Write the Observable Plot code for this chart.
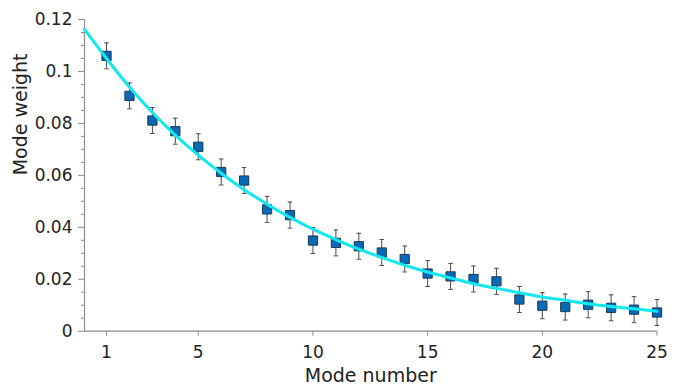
<!DOCTYPE html>
<html>
<head>
<meta charset="utf-8">
<script src="https://cdn.jsdelivr.net/npm/d3@7"></script>
<script src="https://cdn.jsdelivr.net/npm/@observablehq/plot@0.6"></script>
<style>
  html, body { margin: 0; padding: 0; background: white; }
</style>
</head>
<body>
<div id="chart"></div>
<script>
// Measured mode weights (mode numbers 1..25)
const modes = [1,2,3,4,5,6,7,8,9,10,11,12,13,14,15,16,17,18,19,20,21,22,23,24,25];
const weights = [0.1060,0.0906,0.0811,0.0770,0.0710,0.0613,0.0580,0.0469,0.0447,0.0349,0.0340,0.0327,0.0303,0.0278,0.0222,0.0211,0.0201,0.0192,0.0122,0.0098,0.0093,0.0102,0.0090,0.0083,0.0072];
const errors = [0.005,0.005,0.005,0.005,0.005,0.005,0.005,0.005,0.005,0.005,0.005,0.005,0.005,0.005,0.005,0.005,0.005,0.005,0.005,0.005,0.005,0.005,0.005,0.005,0.005];

// Fitted curve
const fitX = [0.04,1,2,3,4,5,6,7,8,9,10,11,12,13,14,15,16,17,18,19,20,21,22,23,24,25];
const fitY = [0.1162,0.1050,0.0940,0.0842,0.0755,0.0678,0.0608,0.0545,0.0489,0.0438,0.0393,0.0353,0.0316,0.0284,0.0254,0.0228,0.0205,0.0183,0.0165,0.0148,0.0132,0.0119,0.0106,0.0095,0.0086,0.0077];

const xTicks = [1,5,10,15,20,25];
const yTicks = [0,0.02,0.04,0.06,0.08,0.1,0.12];
const yTickLabels = ["0","0.02","0.04","0.06","0.08","0.1","0.12"];
const yMinor = [0.005,0.01,0.015,0.025,0.03,0.035,0.045,0.05,0.055,0.065,0.07,0.075,0.085,0.09,0.095,0.105,0.11,0.115];
const xLabel = "Mode number";
const yLabel = "Mode weight";

const data = modes.map((m, i) => ({x: m, y: weights[i], e: errors[i]}));
const fit = fitX.map((x, i) => ({x, y: fitY[i]}));

const capSymbol = {
  draw(ctx) { ctx.moveTo(-2.3, 0); ctx.lineTo(2.3, 0); }
};

const axisColor = "#8c8c8c";

const chart = Plot.plot({
  width: 690,
  height: 386,
  marginLeft: 84,
  marginRight: 33.5,
  marginTop: 19,
  marginBottom: 55.3,
  style: {fontFamily: "DejaVu Sans", fontSize: "17px", color: "#222", background: "white"},
  x: {domain: [0.04, 25], label: null},
  y: {domain: [0, 0.12], label: null},
  marks: [
    Plot.ruleY([0], {stroke: axisColor, strokeWidth: 1.2}),
    Plot.ruleX([0.04], {stroke: axisColor, strokeWidth: 1.2}),
    Plot.axisY({ticks: yMinor, tickSize: 3, stroke: axisColor, text: null, label: null}),
    Plot.axisY({ticks: yTicks, tickSize: 6, tickPadding: 6, stroke: axisColor, fill: "#222",
      tickFormat: d => yTickLabels[yTicks.indexOf(d)], label: null}),
    Plot.axisX({ticks: xTicks, tickSize: 5, tickPadding: 10, stroke: axisColor, fill: "#222", label: null}),
    Plot.ruleX(data, {x: "x", y1: d => d.y - d.e, y2: d => d.y + d.e, stroke: "#4a4a4a", strokeWidth: 1}),
    Plot.dot(data, {x: "x", y: d => d.y - d.e, symbol: capSymbol, r: 3, stroke: "#4a4a4a", strokeWidth: 1, fill: "none"}),
    Plot.dot(data, {x: "x", y: d => d.y + d.e, symbol: capSymbol, r: 3, stroke: "#4a4a4a", strokeWidth: 1, fill: "none"}),
    Plot.dot(data, {x: "x", y: "y", symbol: "square", r: 5.2, fill: "#0a69b3", stroke: "#1b3a5a", strokeWidth: 1}),
    Plot.line(fit, {x: "x", y: "y", curve: "natural", stroke: "#12e8ef", strokeWidth: 3}),
    Plot.text([xLabel], {frameAnchor: "bottom", dy: 44.3, fontSize: 19, fill: "#222", lineAnchor: "middle"}),
    Plot.text([yLabel], {frameAnchor: "left", dx: -63.5, rotate: -90, fontSize: 19, fill: "#222", lineAnchor: "middle"})
  ]
});
document.getElementById("chart").appendChild(chart);
</script>
</body>
</html>
